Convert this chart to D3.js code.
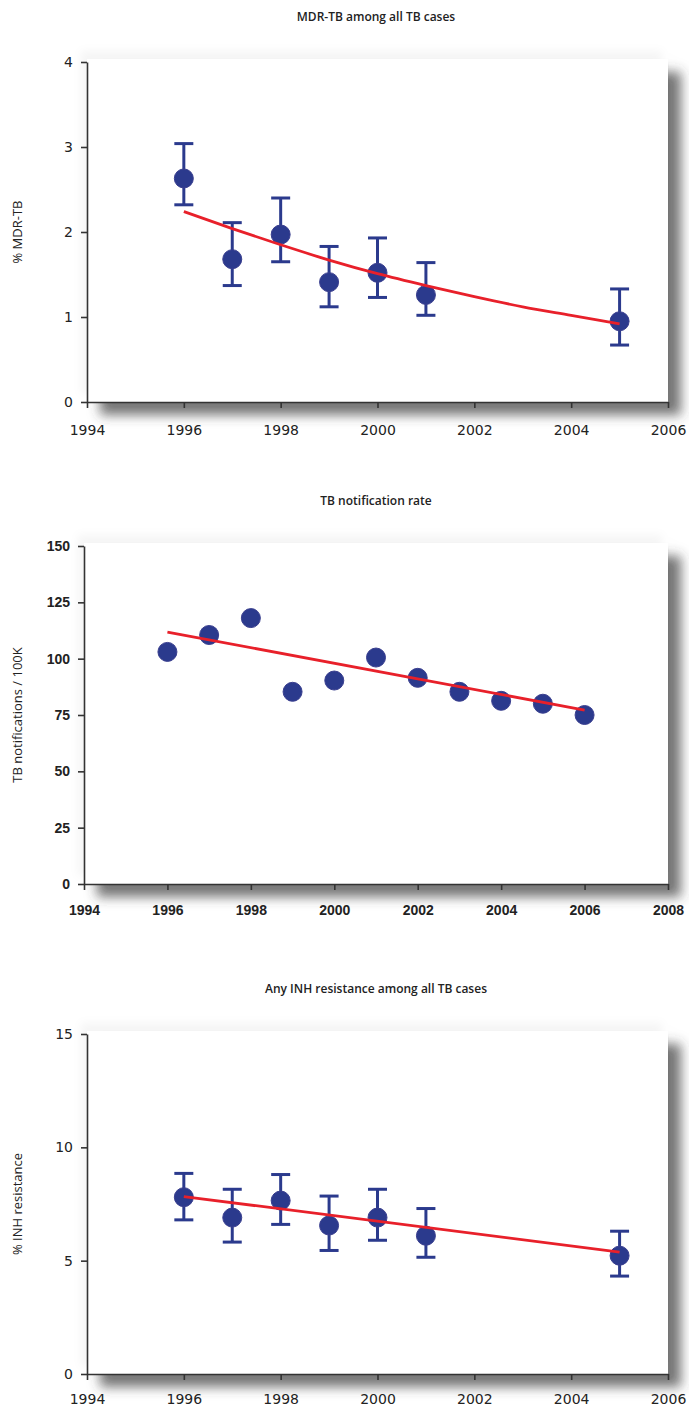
<!DOCTYPE html>
<html>
<head>
<meta charset="utf-8">
<script src="https://cdn.jsdelivr.net/npm/d3@7"></script>
<style>
  body { margin: 0; background: #fff; }
  .title { font-family: "Open Sans", sans-serif; font-size: 12px; font-weight: 600; fill: #222; }
  .ylabel { font-family: "Open Sans", sans-serif; font-size: 13px; fill: #222; }
  .axis path, .axis line { stroke: #333; stroke-width: 1.6px; }
  .axis text { fill: #222; }
  .soft text { font-family: "DejaVu Sans", sans-serif; font-size: 14px; }
  .bold text { font-family: "Liberation Sans", Arial, sans-serif; font-size: 14px; font-weight: bold; }
</style>
</head>
<body>
<div id="chart"></div>
<script>
/* DATA */
const mdrYears = [1996, 1997, 1998, 1999, 2000, 2001, 2005];
const mdrValues = [2.63, 1.68, 1.97, 1.41, 1.52, 1.26, 0.95];
const mdrUpper = [3.04, 2.11, 2.40, 1.83, 1.93, 1.64, 1.33];
const mdrLower = [2.32, 1.37, 1.65, 1.12, 1.23, 1.02, 0.67];
const mdrTrendYears = [1996, 1997, 1998, 1999, 2000, 2001, 2002, 2003, 2004, 2005];
const mdrTrend = [2.24, 2.04, 1.85, 1.67, 1.51, 1.37, 1.24, 1.12, 1.02, 0.92];
const mdrYTicks = [0, 1, 2, 3, 4];
const mdrXTicks = [1994, 1996, 1998, 2000, 2002, 2004, 2006];

const notifYears = [1996, 1997, 1998, 1999, 2000, 2001, 2002, 2003, 2004, 2005, 2006];
const notifValues = [103, 110.5, 118, 85.3, 90.3, 100.5, 91.5, 85.3, 81.3, 80, 75];
const notifTrendYears = [1996, 2006];
const notifTrend = [111.8, 77.2];
const notifYTicks = [0, 25, 50, 75, 100, 125, 150];
const notifXTicks = [1994, 1996, 1998, 2000, 2002, 2004, 2006, 2008];

const inhYears = [1996, 1997, 1998, 1999, 2000, 2001, 2005];
const inhValues = [7.8, 6.9, 7.65, 6.55, 6.9, 6.1, 5.22];
const inhUpper = [8.85, 8.15, 8.8, 7.85, 8.15, 7.3, 6.3];
const inhLower = [6.8, 5.82, 6.6, 5.45, 5.9, 5.15, 4.32];
const inhTrendYears = [1996, 2005];
const inhTrend = [7.83, 5.38];
const inhYTicks = [0, 5, 10, 15];
const inhXTicks = [1994, 1996, 1998, 2000, 2002, 2004, 2006];

const width = 689, height = 1411;
const blue = "#2b3a8d", red = "#e8202a";

const svg = d3.select("#chart").append("svg")
  .attr("width", width).attr("height", height);

// soft drop shadow behind each plot area
const defs = svg.append("defs");
const shadow = defs.append("filter").attr("id", "shadow")
  .attr("x", "-10%").attr("y", "-10%").attr("width", "130%").attr("height", "130%");
shadow.append("feDropShadow").attr("dx", -6).attr("dy", -8).attr("stdDeviation", 4)
  .attr("flood-color", "#000").attr("flood-opacity", 0.04).attr("result", "a");
shadow.append("feDropShadow").attr("in", "a").attr("dx", 13).attr("dy", 13).attr("stdDeviation", 6)
  .attr("flood-color", "#3a3a3a").attr("flood-opacity", 0.7);

const charts = [
  { title: "MDR-TB among all TB cases", titleY: 21, ylabel: "% MDR-TB", cls: "soft",
    x0: 87, x1: 668, y0: 402, y1: 62, xDomain: [1994, 2006], yDomain: [0, 4],
    years: mdrYears, values: mdrValues, upper: mdrUpper, lower: mdrLower,
    tYears: mdrTrendYears, trend: mdrTrend, yTicks: mdrYTicks, xTicks: mdrXTicks, pad: 17 },
  { title: "TB notification rate", titleY: 505, ylabel: "TB notifications / 100K", cls: "bold",
    x0: 84, x1: 668, y0: 884, y1: 546, xDomain: [1994, 2008], yDomain: [0, 150],
    years: notifYears, values: notifValues, upper: null, lower: null,
    tYears: notifTrendYears, trend: notifTrend, yTicks: notifYTicks, xTicks: notifXTicks, pad: 15 },
  { title: "Any INH resistance among all TB cases", titleY: 993, ylabel: "% INH resistance", cls: "soft",
    x0: 87, x1: 668, y0: 1374, y1: 1034, xDomain: [1994, 2006], yDomain: [0, 15],
    years: inhYears, values: inhValues, upper: inhUpper, lower: inhLower,
    tYears: inhTrendYears, trend: inhTrend, yTicks: inhYTicks, xTicks: inhXTicks, pad: 14 }
];

charts.forEach(drawChart);

function drawChart(c) {
  const xScale = d3.scaleLinear().domain(c.xDomain).range([c.x0, c.x1]);
  const yScale = d3.scaleLinear().domain(c.yDomain).range([c.y0, c.y1]);
  const g = svg.append("g");

  g.append("rect")
    .attr("x", c.x0).attr("y", c.y1 - 3)
    .attr("width", c.x1 - c.x0).attr("height", c.y0 - c.y1 + 3)
    .attr("fill", "#fff")
    .attr("filter", "url(#shadow)");

  g.append("text").attr("class", "title")
    .attr("x", 376).attr("y", c.titleY)
    .attr("text-anchor", "middle").text(c.title);

  g.append("text").attr("class", "ylabel")
    .attr("transform", `translate(22,${(c.y0 + c.y1) / 2}) rotate(-90)`)
    .attr("text-anchor", "middle").text(c.ylabel);

  // axes
  g.append("g").attr("class", "axis " + c.cls)
    .attr("transform", `translate(0,${c.y0})`)
    .call(d3.axisBottom(xScale).tickValues(c.xTicks).tickFormat(d3.format("d"))
      .tickSize(6).tickSizeOuter(0).tickPadding(c.pad));

  g.append("g").attr("class", "axis " + c.cls)
    .attr("transform", `translate(${c.x0},0)`)
    .call(d3.axisLeft(yScale).tickValues(c.yTicks).tickFormat(d3.format("d"))
      .tickSize(6).tickSizeOuter(0).tickPadding(8));

  // error bars
  if (c.upper) {
    const eb = g.selectAll(".err").data(c.years).enter().append("g")
      .attr("stroke", blue).attr("stroke-width", 3);
    eb.append("line")
      .attr("x1", d => xScale(d)).attr("x2", d => xScale(d))
      .attr("y1", (d, i) => yScale(c.upper[i])).attr("y2", (d, i) => yScale(c.lower[i]));
    eb.append("line")
      .attr("x1", d => xScale(d) - 9.5).attr("x2", d => xScale(d) + 9.5)
      .attr("y1", (d, i) => yScale(c.upper[i])).attr("y2", (d, i) => yScale(c.upper[i]));
    eb.append("line")
      .attr("x1", d => xScale(d) - 9.5).attr("x2", d => xScale(d) + 9.5)
      .attr("y1", (d, i) => yScale(c.lower[i])).attr("y2", (d, i) => yScale(c.lower[i]));
  }

  // points
  g.selectAll(".pt").data(c.years).enter().append("circle")
    .attr("cx", d => xScale(d))
    .attr("cy", (d, i) => yScale(c.values[i]))
    .attr("r", 9.5)
    .attr("fill", blue)
    .attr("stroke", "#3a3f8f").attr("stroke-width", 1);

  // trend line
  const line = d3.line()
    .x(d => xScale(d))
    .y((d, i) => yScale(c.trend[i]))
    .curve(d3.curveMonotoneX);
  g.append("path").datum(c.tYears)
    .attr("d", line)
    .attr("fill", "none").attr("stroke", red).attr("stroke-width", 2.8);
}
</script>
</body>
</html>
